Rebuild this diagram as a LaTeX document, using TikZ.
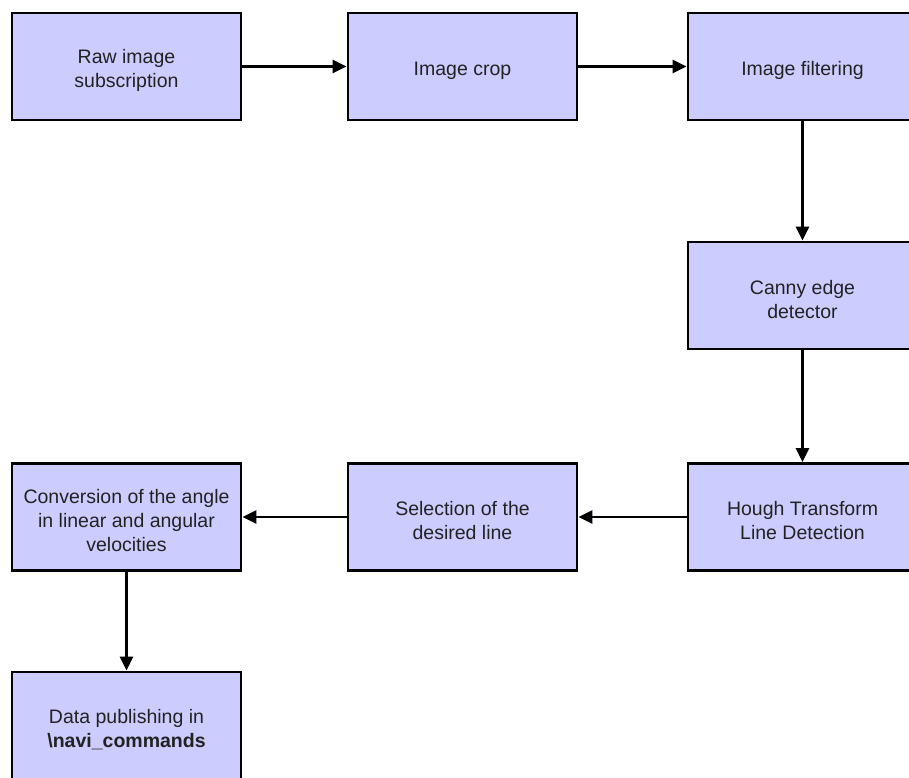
\documentclass[tikz,border=0pt]{standalone}
\usepackage{fontspec}
\setmainfont{Liberation Sans}
\usetikzlibrary{arrows.meta}
\definecolor{boxfill}{HTML}{CCCCFF}
\definecolor{txt}{HTML}{222222}
\tikzset{
  stepbox/.style={draw=black, line width=2.8pt, fill=boxfill, minimum width=229pt, minimum height=107pt,
    inner sep=0pt},
  steptext/.style={align=center, text=txt, inner sep=0pt, yshift=-4pt,
    font=\fontsize{19.5pt}{24pt}\selectfont},
  flow/.style={draw=black, line width=2.4pt, -{Triangle[length=14pt,width=13pt]}}
}
\begin{document}
\begin{tikzpicture}[x=1pt,y=-1pt]
\useasboundingbox (0,0) rectangle (909,777);
\node[stepbox, label={[steptext]center:{Raw image\\subscription}}] (b1) at (126.5,66.5) {};
\node[stepbox, label={[steptext]center:{Image crop}}] (b2) at (462.5,66.5) {};
\node[stepbox, label={[steptext]center:{Image filtering}}] (b3) at (802.5,66.5) {};
\node[stepbox, label={[steptext]center:{Canny edge\\detector}}] (b4) at (802.5,295.5) {};
\node[stepbox, label={[steptext]center:{Hough Transform\\Line Detection}}] (b5) at (802.5,517) {};
\node[stepbox, label={[steptext]center:{Selection of the\\desired line}}] (b6) at (462.5,517) {};
\node[stepbox, label={[steptext]center:{Conversion of the angle\\in linear and angular\\velocities}}] (b7) at (126.5,517) {};
\node[stepbox, label={[steptext]center:{Data publishing in\\\textbf{\textbackslash navi\_commands}}}] (b8) at (126.5,725.5) {};
\draw[flow] (b1) -- (b2);
\draw[flow] (b2) -- (b3);
\draw[flow] (b3) -- (b4);
\draw[flow] (b4) -- (b5);
\draw[flow] (b5) -- (b6);
\draw[flow] (b6) -- (b7);
\draw[flow] (b7) -- (b8);
\end{tikzpicture}
\end{document}
